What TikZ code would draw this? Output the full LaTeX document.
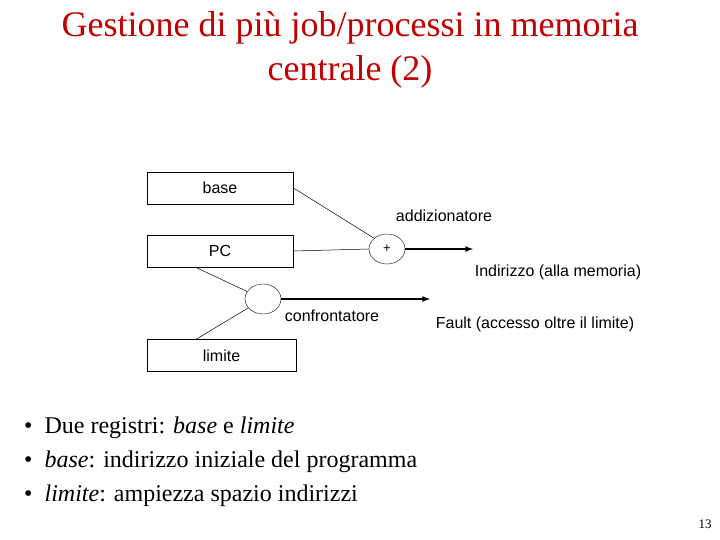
\documentclass[tikz,border=0pt]{standalone}
\usepackage{fontspec}
\setmainfont{Liberation Serif}
\newfontfamily\arial{Liberation Sans}
\usetikzlibrary{shapes.geometric}
\definecolor{titlered}{RGB}{192,0,0}
\begin{document}
\begin{tikzpicture}[x=1pt,y=-1pt,
  reg/.style={draw,line width=0.8pt,minimum height=32pt,inner sep=0pt,font=\arial\fontsize{16}{18}\selectfont},
  op/.style={draw,ellipse,minimum width=36pt,minimum height=30pt,inner sep=0pt,font=\arial\fontsize{13}{14}\selectfont},
  lbl/.style={font=\arial\fontsize{16}{18}\selectfont,inner sep=0pt},
  wire/.style={line width=0.5pt},
  outarrow/.style={line width=1.6pt,-latex},
  bul/.style={anchor=west,font=\fontsize{24}{28}\selectfont,inner sep=0pt}]
\useasboundingbox (0,0) rectangle (720,540);
\node[font=\fontsize{36}{44}\selectfont,text=titlered,align=center] (title) at (350,50) {Gestione di più job/processi in memoria\\centrale (2)};
\node[reg,minimum width=146pt] (base) at (220,188) {base};
\node[reg,minimum width=146pt] (pc) at (220,251) {PC};
\node[reg,minimum width=149pt] (lim) at (221.5,355.5) {limite};
\node[op] (add) at (387,249) {+};
\node[op] (cmp) at (263,299) {};
\coordinate (a1) at (473,249);
\coordinate (a2) at (430,299);
\coordinate (p1) at (195,267);
\coordinate (p2) at (195,340);
\draw[wire] (base.east) -- (add.north west);
\draw[wire] (pc.east) -- (add.west);
\draw[wire] (p1) -- (cmp);
\draw[wire] (p2) -- (cmp);
\draw[outarrow] (add.east) -- (a1);
\draw[outarrow] (cmp.east) -- (a2);
\node[lbl] (ladd) at (444,216) {addizionatore};
\node[lbl] (lind) at (558,272) {Indirizzo (alla memoria)};
\node[lbl] (lcmp) at (332,316) {confrontatore};
\node[lbl] (lf) at (535,324) {Fault (accesso oltre il limite)};
\node[bul] (b1) at (24,428) {•\hspace{12pt}Due registri: \textit{base} e \textit{limite}};
\node[bul] (b2) at (24,462) {•\hspace{12pt}\textit{base}: indirizzo iniziale del programma};
\node[bul] (b3) at (24,496) {•\hspace{12pt}\textit{limite}: ampiezza spazio indirizzi};
\node[font=\fontsize{13}{15}\selectfont] (pg) at (705,524) {13};
\end{tikzpicture}
\end{document}
